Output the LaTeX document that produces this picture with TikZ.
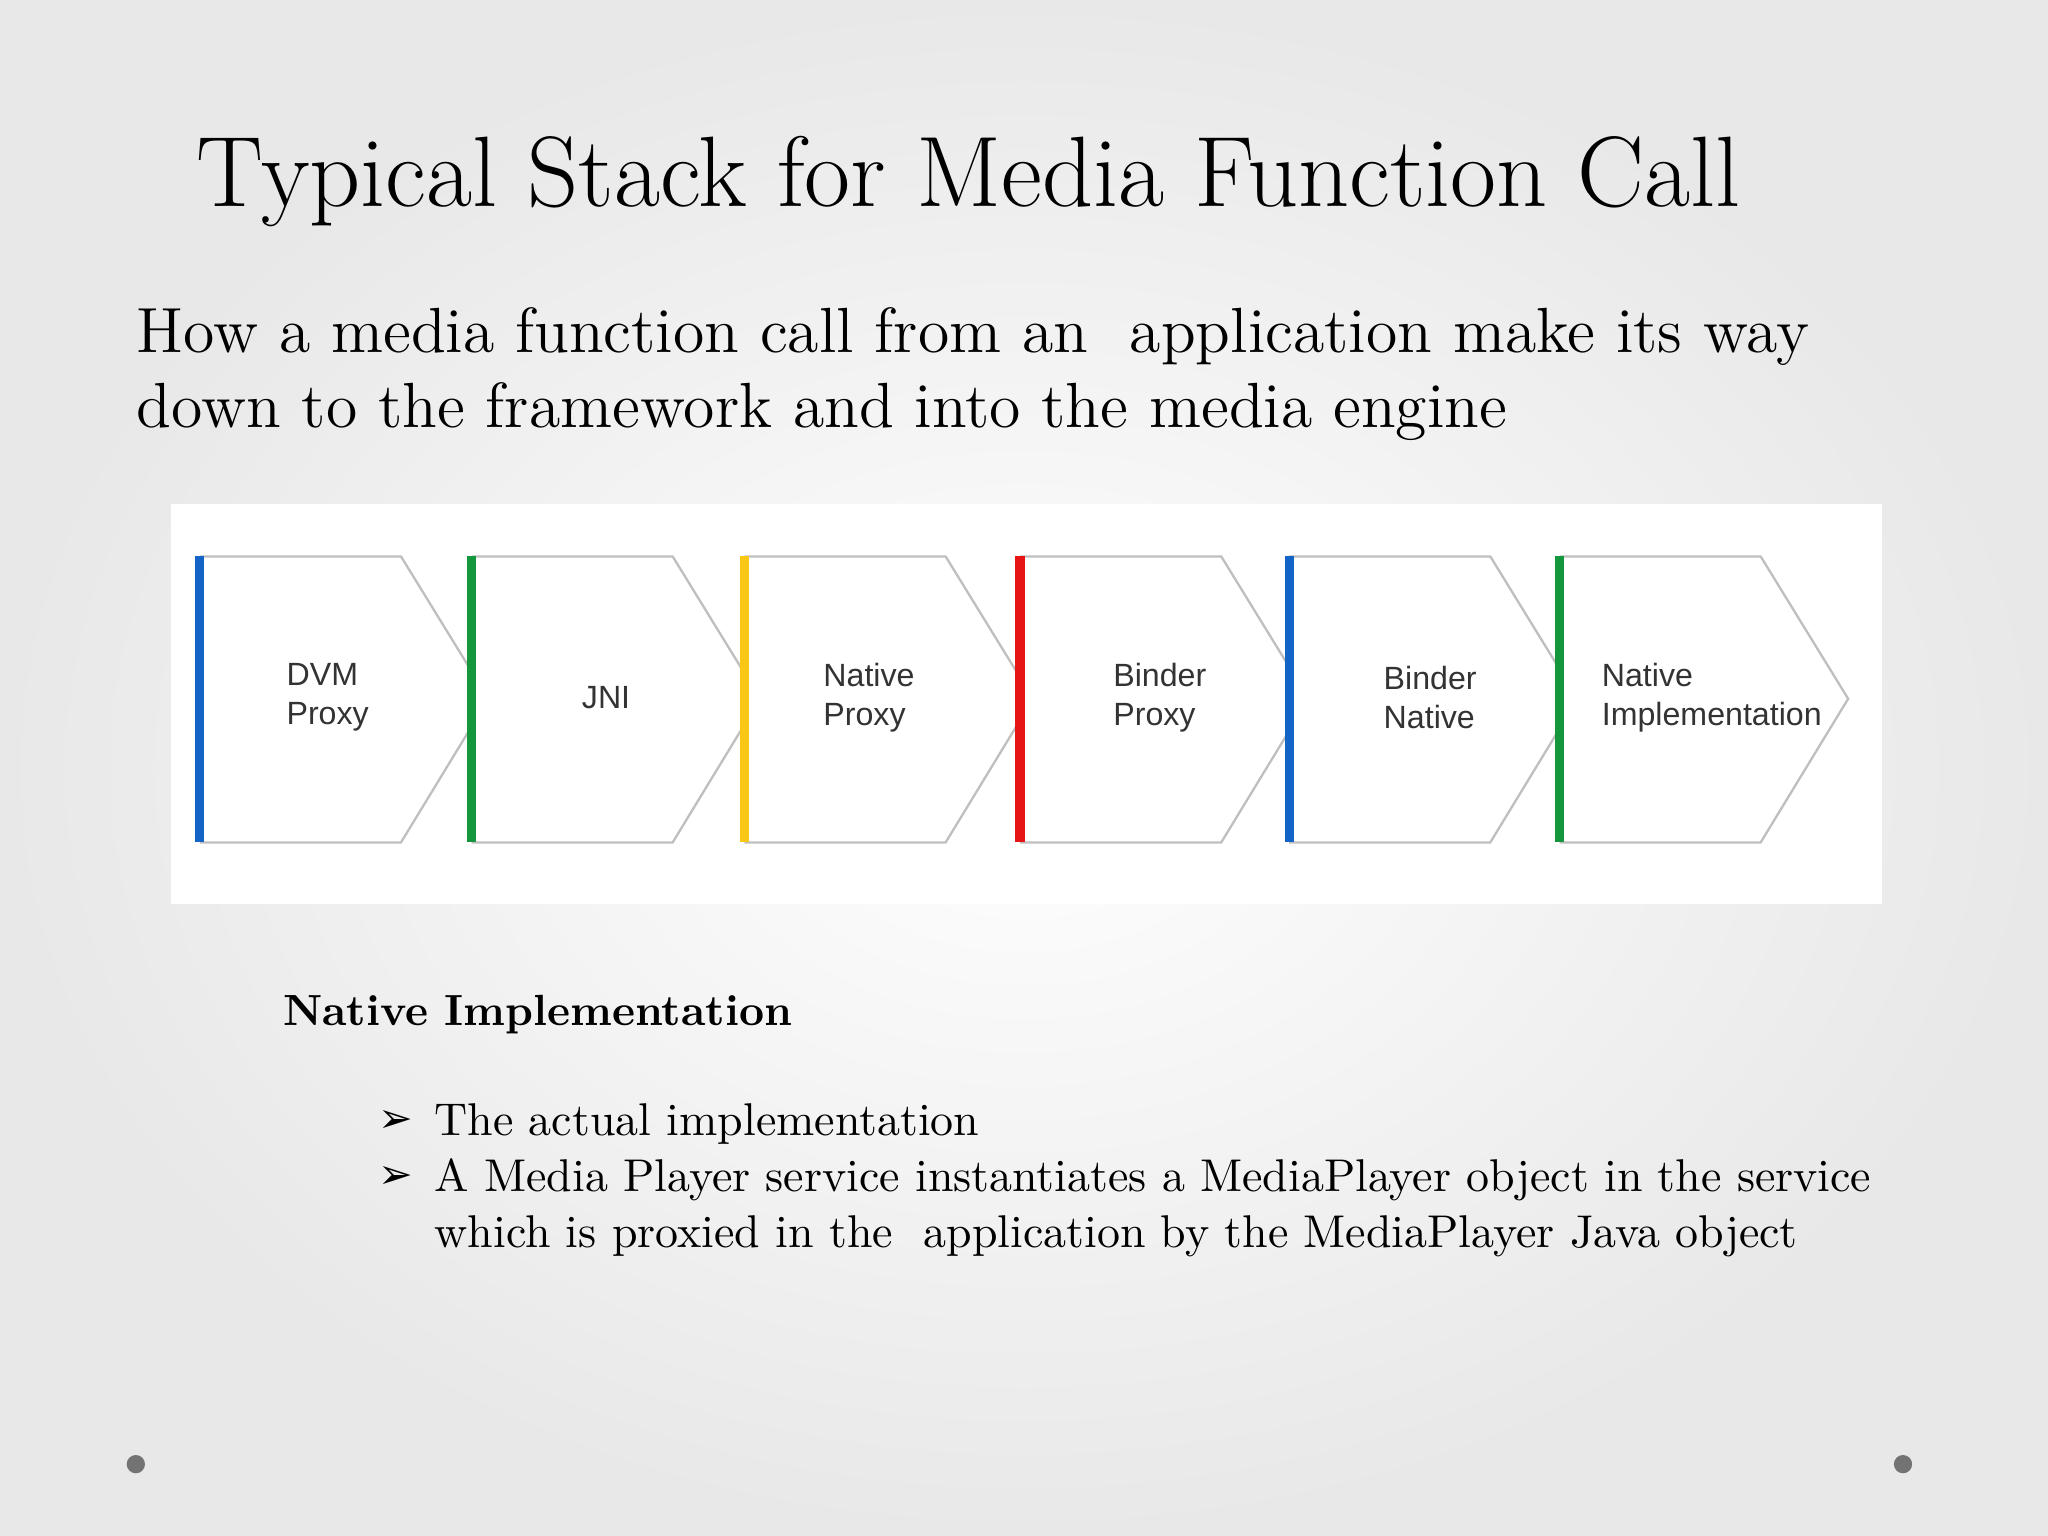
\documentclass[tikz,border=0pt]{standalone}
\usepackage{fontspec}
\newfontfamily\diag{Liberation Sans}
\newfontfamily\sym{DejaVu Sans}
\definecolor{gblue}{RGB}{20,100,200}
\definecolor{ggreen}{RGB}{20,150,60}
\definecolor{gyellow}{RGB}{250,200,20}
\definecolor{gred}{RGB}{230,20,20}
\begin{document}
\begin{tikzpicture}[x=0.01cm,y=-0.01cm,
  chev/.style={draw=black!25,fill=white,line width=0.5pt},
  lbl/.style={font=\diag\fontsize{7}{8.5}\selectfont,text=black!80,align=left,anchor=west},
  txt/.style={anchor=base west,inner sep=0,font=\fontsize{10}{12}\selectfont}]
\shade[inner color=white,outer color=black!9] (0,0) rectangle (1568,1176);
\useasboundingbox (0,0) rectangle (1568,1176);
\node[anchor=base west,font=\fontsize{21.8}{26}\selectfont,inner sep=0] (title) at (150,158) {Typical Stack for Media Function Call};
\node[anchor=base west,font=\fontsize{13.9}{18}\selectfont,inner sep=0] (sub1) at (104,270) {How a media function call from an\ \ application make its way};
\node[anchor=base west,font=\fontsize{13.9}{18}\selectfont,inner sep=0] (sub2) at (104,327) {down to the framework and into the media engine};
\fill[white] (131,386) rectangle (1441,692);
\foreach \x/\c/\n in {153/gblue/a,361/ggreen/b,570/gyellow/c,781/gred/d,987/gblue/e,1194/ggreen/f}{
  \draw[chev] (\x,426) -- (\x+154,426) -- (\x+221,535) -- (\x+154,645) -- (\x,645);
  \draw[\c,line width=2pt] (\x,426) -- (\x,645);
  \coordinate (\n) at (\x,535);
}
\node[lbl] (la) at (207,534) {DVM\\Proxy};
\node[anchor=center,font=\diag\fontsize{7}{8.5}\selectfont,text=black!80] (lb) at (464,534) {JNI};
\node[lbl] (lc) at (618,534) {Native\\Proxy};
\node[lbl] (ld) at (840,534) {Binder\\Proxy};
\node[lbl] (le) at (1047,534) {Binder\\Native};
\node[lbl] (lf) at (1214,534) {Native\\Implementation};
\node[anchor=base west,font=\bfseries\fontsize{9.5}{12}\selectfont,inner sep=0] (h) at (216,785) {Native Implementation};
\node[anchor=base west,inner sep=0,font=\sym\fontsize{9}{11}\selectfont] (b1) at (289,867) {➢};
\node[anchor=base west,inner sep=0,font=\sym\fontsize{9}{11}\selectfont] (b2) at (289,910) {➢};
\node[txt] (t1) at (332,869) {The actual implementation};
\node[txt] (t2) at (332,912) {A Media Player service instantiates a MediaPlayer object in the service};
\node[txt] (t3) at (332,955) {which is proxied in the\ \ application by the MediaPlayer Java object};
\fill[black!55] (104,1121) circle (7);
\fill[black!55] (1457,1121) circle (7);
\end{tikzpicture}
\end{document}
